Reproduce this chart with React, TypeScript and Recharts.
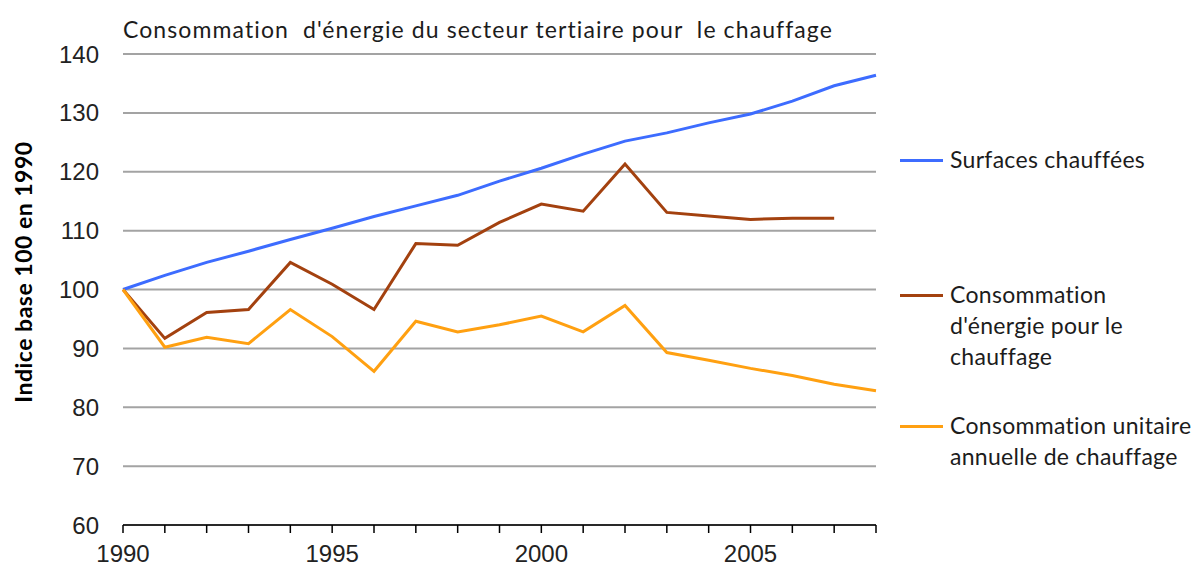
import React from 'react';
import { LineChart, Line, XAxis, YAxis, CartesianGrid, Legend } from 'recharts';

const years = [1990, 1991, 1992, 1993, 1994, 1995, 1996, 1997, 1998, 1999, 2000, 2001, 2002, 2003, 2004, 2005, 2006, 2007, 2008];
const surfaces = [100, 102.4, 104.6, 106.5, 108.5, 110.4, 112.4, 114.2, 116.0, 118.4, 120.6, 123.0, 125.2, 126.6, 128.3, 129.8, 132.0, 134.6, 136.4];
const energie = [100, 91.7, 96.1, 96.6, 104.6, 100.9, 96.6, 107.8, 107.5, 111.4, 114.5, 113.3, 121.3, 113.1, 112.5, 111.9, 112.1, 112.1, null];
const unitaire = [100, 90.2, 91.9, 90.8, 96.6, 92.0, 86.1, 94.6, 92.8, 94.0, 95.5, 92.8, 97.3, 89.3, 88.0, 86.6, 85.4, 83.9, 82.8];

const yTicks = [60, 70, 80, 90, 100, 110, 120, 130, 140];
const xLabelYears = [1990, 1995, 2000, 2005];

const title = "Consommation  d'énergie du secteur tertiaire pour  le chauffage";
const yTitle = 'Indice base 100 en 1990';

const seriesKeys = ['surfaces', 'energie', 'unitaire'];
const seriesNames = ['Surfaces chauffées', "Consommation d'énergie pour le chauffage", 'Consommation unitaire annuelle de chauffage'];
const seriesColors = ['#3d6cff', '#a3410f', '#ffa011'];
const legendLines = [
  ['Surfaces chauffées'],
  ['Consommation', "d'énergie pour le", 'chauffage'],
  ['Consommation unitaire', 'annuelle de chauffage'],
];
const legendTops = [144, 279, 410];

const data = years.map((year, i) => ({
  year,
  surfaces: surfaces[i],
  energie: energie[i],
  unitaire: unitaire[i],
}));

const textFont = 'Lato, "Open Sans", sans-serif';
const tickFont = '"Liberation Sans", Arial, sans-serif';

const renderLegend = () => (
  <div style={{ position: 'relative', width: 300, height: 567 }}>
    {legendLines.map((lines, i) => (
      <div key={i} style={{ position: 'absolute', left: 0, top: legendTops[i], display: 'flex', alignItems: 'flex-start' }}>
        <div style={{ width: 43, height: 3, background: seriesColors[i], marginTop: 14.5, marginRight: 7 }} />
        <div
          style={{
            fontFamily: textFont,
            fontSize: 23,
            letterSpacing: 0.3,
            lineHeight: '31px',
            color: '#1c1c1c',
            textAlign: 'left',
            whiteSpace: 'nowrap',
          }}
        >
          {lines.map((l, j) => (
            <div key={j}>{l}</div>
          ))}
        </div>
      </div>
    ))}
  </div>
);

const renderYTitle = () => (
  <text
    x={23}
    y={272}
    transform="rotate(-90 23 272)"
    textAnchor="middle"
    dominantBaseline="central"
    style={{ fontFamily: textFont, fontSize: 23, fontWeight: 700, letterSpacing: 0.5, fill: '#000' }}
  >
    {yTitle}
  </text>
);

export default function App() {
  return (
    <div style={{ position: 'absolute', left: 0, top: 0, width: 1196, height: 567, background: '#fff' }}>
      <div
        style={{
          position: 'absolute',
          left: 123,
          top: 14,
          fontFamily: textFont,
          fontSize: 23,
          letterSpacing: 1.1,
          color: '#1c1c1c',
          whiteSpace: 'pre',
          lineHeight: '30px',
        }}
      >
        {title}
      </div>
      <LineChart width={1196} height={567} data={data} margin={{ top: 54, right: 320, bottom: 0, left: 0 }}>
        <CartesianGrid vertical={false} stroke="#a3a3a3" strokeWidth={2} />
        <XAxis
          dataKey="year"
          type="number"
          domain={[1990, 2008]}
          ticks={years}
          interval={0}
          tickFormatter={(v: number) => (xLabelYears.includes(v) ? String(v) : '')}
          height={42}
          tickSize={8}
          tickMargin={12}
          axisLine={{ stroke: '#000', strokeWidth: 1.5 }}
          tickLine={{ stroke: '#000', strokeWidth: 1.5 }}
          tick={{ fontFamily: tickFont, fontSize: 24, fill: '#222' }}
        />
        <YAxis
          type="number"
          domain={[60, 140]}
          ticks={yTicks}
          interval={0}
          width={123}
          axisLine={false}
          tickLine={false}
          tickSize={6}
          tickMargin={18}
          tick={{ fontFamily: tickFont, fontSize: 24, fill: '#222' }}
          label={{ content: renderYTitle }}
        />
        <Legend
          layout="horizontal"
          verticalAlign="middle"
          align="center"
          content={renderLegend}
          wrapperStyle={{ position: 'absolute', left: 900, top: 0, width: 300, height: 567 }}
        />
        {seriesKeys.map((k, i) => (
          <Line
            key={k}
            type="linear"
            dataKey={k}
            name={seriesNames[i]}
            stroke={seriesColors[i]}
            strokeWidth={3}
            dot={false}
            activeDot={false}
            isAnimationActive={false}
          />
        ))}
      </LineChart>
    </div>
  );
}
